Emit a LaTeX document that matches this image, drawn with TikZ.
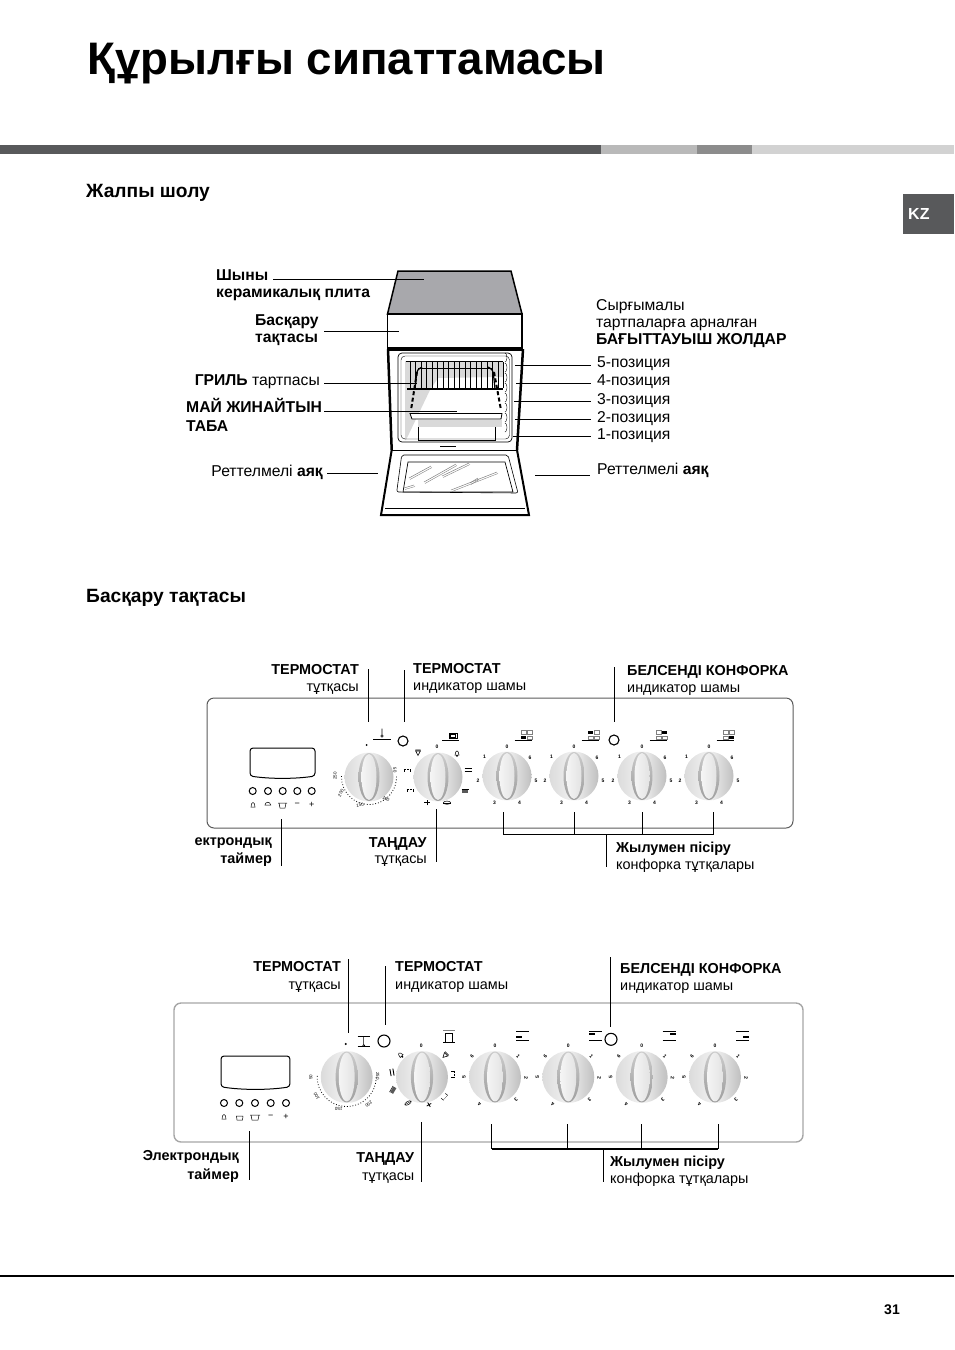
\documentclass[tikz,border=0pt]{standalone}
\usepackage{fontspec}
\setmainfont{Liberation Sans}
\usetikzlibrary{shapes.geometric,positioning}
\definecolor{cBand}{RGB}{88,89,91}
\definecolor{cHob}{RGB}{168,168,172}
\definecolor{cEdge}{RGB}{90,90,90}
\newcommand{\leadline}[3]{\coordinate (#1a) at (#2); \coordinate (#1b) at (#3); \draw[lead] (#1a) -- (#1b);}
\tikzset{
  lead/.style={draw=black,line width=0.9pt},
  lbl/.style={inner sep=0pt,font=\fontsize{14.4}{17}\selectfont,align=left},
  lblr/.style={inner sep=0pt,font=\fontsize{14.4}{17}\selectfont,align=right},
  olbl/.style={inner sep=0pt,font=\fontsize{15.7}{17}\selectfont,align=left},
  head/.style={inner sep=0pt,anchor=base west,font=\fontsize{19.2}{20}\selectfont\bfseries},
  tiny/.style={inner sep=0pt,font=\fontsize{5}{5}\selectfont\bfseries},
  panelbox/.style={draw=cEdge,rectangle,rounded corners=7pt,line width=1pt,inner sep=0pt},
  btn/.style={draw=black,circle,line width=1pt,inner sep=0pt,minimum size=7pt},
  lamp/.style={draw=black,circle,line width=1.1pt,inner sep=0pt,minimum size=10pt},
  pics/knob/.style={code={
    \shade[left color=gray!28,right color=gray!50,middle color=gray!10] (0,0) circle (24.5);
    \shade[top color=gray!40,bottom color=gray!75,middle color=gray!60] (0,0) ellipse [x radius=10.5,y radius=24];
    \shade[left color=gray!8,right color=gray!22] (0,0) ellipse [x radius=7.5,y radius=23];
  }},
  pics/burnerA/.style={code={
    \begin{scope}[y=1pt]
    \pic {knob};
    \foreach \i/\ang in {0/90,1/140,2/190,3/245,4/295,5/350,6/39}
      \node[tiny] (num\i) at (\ang:29.5) {\i};
    \draw[line width=0.7pt] (7.5,36) -- (25,36);
    \foreach \i/\cx/\cy in {1/13.7/36.9,2/13.7/42,3/19.7/42,4/19.7/36.9}{
      \ifnum\i=#1 \fill (\cx,\cy) rectangle ++(5.2,3.4);
      \else \draw[line width=0.3pt,gray] (\cx,\cy) rectangle ++(5.2,3.4);\fi}
    \end{scope}
  }},
  pics/burnerB/.style={code={
    \begin{scope}[y=1pt]
    \pic[scale=1.06] {knob};
    \foreach \i/\ang in {0/90,1/42,2/-2,3/-47,4/-120,5/180,6/138}
      \node[tiny,rotate=\ang-90] (num\i) at (\ang:31) {\i};
    \draw[line width=0.6pt] (21,45.3) -- (34,45.3) (21,36.3) -- (34,36.3);
    \ifnum#1=1 \fill (21,38.6) rectangle ++(6,2);\fi
    \ifnum#1=2 \fill (21,42.2) rectangle ++(6,2);\fi
    \ifnum#1=3 \fill (28,42.2) rectangle ++(6,2);\fi
    \ifnum#1=4 \fill (28,38.6) rectangle ++(6,2);\fi
    \end{scope}
  }},
  pics/thermoA/.style={code={
    \begin{scope}[y=1pt]
    \pic {knob};
    \fill (-2.3,32) circle (1);
    \draw[line width=0.8pt,dotted] (178:27.5) arc (178:362:27.5);
    \foreach \t/\x/\y/\r in {250/-34/1/90,200/-28/-16/60,150/-9/-28/10,100/17/-22/-35,50/26/7/-85}
      \node[tiny,rotate=\r,font=\fontsize{4.5}{5}\selectfont] (t\t) at (\x,\y) {\t};
    \draw[line width=0.7pt] (4,38) -- (22,38);
    \draw[line width=0.6pt] (13,41) circle (1.3) (13,42) -- (13,48.5);
    \end{scope}
  }},
  pics/thermoB/.style={code={
    \begin{scope}[y=1pt]
    \pic[scale=1.06] {knob};
    \fill (-1,33) circle (1.1);
    \draw[line width=0.8pt,dotted] (178:29.5) arc (178:362:29.5);
    \foreach \t/\x/\y/\r in {50/-36/0/90,100/-30/-19/120,150/-8/-32/175,200/22/-27/220,250/31/1/270}
      \node[tiny,rotate=\r,font=\fontsize{4.5}{5}\selectfont] (t\t) at (\x,\y) {\t};
    \draw[line width=0.6pt] (11,41) -- (23,41) (11,31) -- (23,31);
    \draw[line width=0.5pt] (17,31.5) circle (1) (17,32.5) -- (17,40);
    \end{scope}
  }},
  pics/symtri/.style={code={\draw[line width=0.6pt] (-2.4,2) -- (2.4,2) -- (0,-2.4) -- cycle (-2.6,3.2) -- (2.6,3.2);}},
  pics/symbell/.style={code={\draw[line width=0.5pt] (-2,-2) .. controls (-1.5,3.5) and (1.5,3.5) .. (2,-2) -- cycle (0,-3) circle (0.6);}},
  pics/symeq/.style={code={\draw[line width=0.9pt] (-3.5,1.5) -- (3.5,1.5) (-3.5,-1.5) -- (3.5,-1.5);}},
  pics/sympot/.style={code={\fill[gray!70!black] (-3.3,-2) rectangle (3.3,1.4); \draw[line width=0.5pt] (-3.5,2) -- (3.5,2);}},
  pics/symoval/.style={code={\draw[line width=0.5pt] (0,0) ellipse [x radius=3.6,y radius=1.6]; \draw[line width=0.4pt] (-3.6,0) -- (3.6,0);}},
  pics/symfan/.style={code={\draw[line width=0.8pt] (-2.6,0) -- (2.6,0) (0,-2.6) -- (0,2.6);}},
  pics/symgrill/.style={code={\draw[line width=0.5pt,densely dotted] (-3.2,1) -- (3.2,1); \draw[line width=0.5pt] (-3.2,-1.8) -- (-3.2,1) (3.2,-1.8) -- (3.2,1);}},
  pics/selectA/.style={code={
    \begin{scope}[y=1pt]
    \pic {knob};
    \node[tiny] (nil) at (-1,30.7) {0};
    \pic at (-20,24) {symtri};
    \pic at (19,24) {symbell};
    \pic at (30,6.7) {symeq};
    \pic at (27,-14) {sympot};
    \pic at (9,-25.7) {symoval};
    \pic at (-11,-25.7) {symfan};
    \pic at (-28,-13) {symgrill};
    \pic at (-31,7) {symgrill};
    \draw[line width=0.7pt] (4,37) -- (21,37);
    \draw[line width=0.7pt] (11,38.5) rectangle (19,44);
    \draw[line width=0.4pt] (12.5,39.5) rectangle (17.5,43);
    \end{scope}
  }},
  pics/selectB/.style={code={
    \begin{scope}[y=1pt]
    \pic[scale=1.06] {knob};
    \node[tiny] (nil) at (-0.7,31.7) {0};
    \pic[rotate=-45] at (22.7,21.3) {symtri};
    \pic[rotate=-90] at (31,3) {symgrill};
    \pic[rotate=-130] at (22.7,-20) {symgrill};
    \pic[rotate=30] at (7,-27.7) {symfan};
    \pic[rotate=30] at (-14,-26) {symoval};
    \pic[rotate=60] at (-29,-13) {sympot};
    \pic[rotate=100] at (-30,4.7) {symeq};
    \pic[rotate=45] at (-21.7,22.3) {symbell};
    \draw[gray,line width=0.8pt] (21,47) -- (33,47);
    \draw[line width=0.7pt] (21,34.5) -- (33,34.5);
    \draw[line width=0.5pt] (23.5,35) rectangle (30.5,44);
    \end{scope}
  }},
  pics/timer/.style={code={
    \draw[line width=1pt,rounded corners=3pt] (0,0) -- (65,0) -- (65,28) .. controls (45,31) and (20,31) .. (0,28) -- cycle;
  }},
}
\begin{document}
\begin{tikzpicture}[x=1pt,y=-1pt]
  \useasboundingbox (0,0) rectangle (954,1350);
  % page head
  \node[inner sep=0pt,anchor=base west,font=\fontsize{45.6}{50}\selectfont\bfseries] (title) at (87,74) {Құрылғы сипаттамасы};
  \fill[cBand] (0,145) rectangle (601,154);
  \fill[gray!55] (601,145) rectangle (697,154);
  \fill[gray!90] (697,145) rectangle (752,154);
  \fill[gray!35] (752,145) rectangle (954,154);
  \node[head] (overview) at (86,197) {Жалпы шолу};
  \node[fill=cBand,rectangle,minimum width=51pt,minimum height=40pt,inner sep=0pt] (kzbox) at (928.5,214) {};
  \node[text=white,inner sep=0pt,anchor=base west,font=\fontsize{16}{16}\selectfont\bfseries] (kz) at (908,219) {KZ};
  \node[head] (control) at (86,602) {Басқару тақтасы};

  % oven
  \draw[fill=cHob,line width=1.5pt] (398,271) -- (511,271) -- (522,314) -- (387.5,314) -- cycle;
  \draw[fill=white,line width=1.3pt] (387.5,314) rectangle (522,348);
  \draw[line width=2.5pt] (388,349) -- (391.7,450);
  \draw[line width=2.5pt] (523,349) -- (517,450);
  \draw[line width=2pt] (388,349.5) -- (523,349.5);
  \fill[gray!30] (405,361) -- (503,361) -- (503,377) -- (438,378) -- (430,390) -- (406,440) -- (405,440) -- cycle;
  \fill[gray!30] (418,420) -- (502,420) -- (502,427) -- (418,427) -- cycle;
  \draw[line width=0.7pt,rounded corners=4pt] (398,353) rectangle (512,442);
  \draw[line width=0.4pt,rounded corners=4pt] (401,356) rectangle (509.5,439);
  \foreach \x in {410,415.5,421,426.5,432,437.5,443,448.5,454,459.5,465,470.5,476,481.5,487,492.5,498,503}
    \draw[line width=0.6pt] (\x,362) -- (\x,388);
  \draw[line width=0.7pt] (406,361.5) -- (503,361.5);
  \draw[line width=0.8pt] (418,368) -- (492,368);
  \draw[line width=1.2pt] (407,389) -- (503,389);
  \draw[line width=1.2pt,rounded corners=3pt] (415,389) -- (417,370) -- (422,367);
  \draw[line width=1.2pt,rounded corners=3pt] (495,389) -- (493,370) -- (488,367);
  \draw[line width=2pt,dash pattern=on 4pt off 2.5pt] (417,372) -- (411,410);
  \draw[line width=2pt,dash pattern=on 4pt off 2.5pt] (494,372) -- (501,410);
  \draw[fill=white,line width=0.8pt] (410,413.5) -- (502,413.5) -- (501,419) -- (412,419) -- cycle;
  \draw[line width=0.5pt] (418,427) -- (418,440) -- (495,440) -- (495,427);
  \draw[line width=0.4pt] (440,446) -- (456,446);
  \foreach \y in {362,372,382,392,402,412,422,432}
    \draw[line width=0.4pt] (505,\y) arc (90:-90:2 and 4.5);
  \draw[line width=0.8pt] (392,450) -- (517,450);
  \draw[line width=2pt] (391.7,450) -- (381,515) -- (529,515) -- (517,450);
  \draw[line width=0.5pt] (385,508) -- (525,508);
  \draw[line width=0.6pt,rounded corners=2pt] (401.7,455) -- (508,455) -- (518,493) -- (396.7,492) -- cycle;
  \draw[line width=0.7pt] (408,462) -- (505,462) -- (513,492) -- (403,492) -- cycle;
  \foreach \xa/\ya/\xb/\yb in {409/478/431/466,424/482/456/464,442/476/469/463,451/490/497/472,470/483/478/478,404/488/414/485}{
    \draw[gray,line width=0.5pt] (\xa,\ya) -- (\xb,\yb);
    \draw[gray,line width=0.4pt] (\xa+1,\ya+1.5) -- (\xb+1,\yb+1.5);}

  % oven labels (a node's base anchor sits on its last line)
  \node[olbl,anchor=base west,font=\fontsize{15.7}{17}\selectfont\bfseries] (lglass) at (216,297) {Шыны\\керамикалық плита};
  \leadline{glass}{273,279}{424,279}
  \node[olbl,anchor=base west,font=\fontsize{15.7}{17}\selectfont\bfseries] (lctrl) at (255,342) {Басқару\\тақтасы};
  \leadline{ctrl}{324,331}{399,331}
  \node[olbl,anchor=base east] (lgrill) at (320,385) {\textbf{ГРИЛЬ} тартпасы};
  \leadline{grill}{324,383}{417,383}
  \node[olbl,anchor=base west,font=\fontsize{15.7}{19}\selectfont\bfseries] (ldrip) at (186,431) {МАЙ ЖИНАЙТЫН\\ТАБА};
  \leadline{drip}{324,411}{457,411}
  \node[olbl,anchor=base east] (lfootL) at (323,476) {Реттелмелі \textbf{аяқ}};
  \leadline{footL}{327,473}{378,473}
  \node[olbl,anchor=base west] (lrails) at (596,344) {Сырғымалы\\тартпаларға арналған\\\textbf{БАҒЫТТАУЫШ ЖОЛДАР}};
  \node[olbl,anchor=base west] (lfive) at (597,367) {5-позиция};
  \leadline{five}{515,365}{591,365}
  \node[olbl,anchor=base west] (lfour) at (597,385) {4-позиция};
  \leadline{four}{516,383}{591,383}
  \node[olbl,anchor=base west] (lthree) at (597,404) {3-позиция};
  \leadline{three}{514,401}{591,401}
  \node[olbl,anchor=base west] (ltwo) at (597,422) {2-позиция};
  \leadline{two}{515,419.5}{591,419.5}
  \node[olbl,anchor=base west] (lone) at (597,439) {1-позиция};
  \leadline{one}{513,436}{591,436}
  \node[olbl,anchor=base west] (lfootR) at (597,474) {Реттелмелі \textbf{аяқ}};
  \leadline{footR}{535,475}{590,475}

  % upper panel
  \node[panelbox,minimum width=586pt,minimum height=130pt] (panelA) at (500,763) {};
  \pic at (250,748) {timer};
  \foreach \i/\x in {1/252.7,2/268,3/282.7,4/297.3,5/311.7}
    \node[btn] (btnA\i) at (\x,791) {};
  \node[tiny,font=\fontsize{9}{9}\selectfont] (minusA) at (297.3,805) {−};
  \node[tiny,font=\fontsize{9}{9}\selectfont] (plusA) at (311.7,805) {+};
  \draw[line width=0.5pt] (251,807) .. controls (251,801) and (255,801) .. (255,807) -- cycle;
  \draw[line width=0.5pt] (264.5,805) -- (271,805) (265,805) arc (180:360:2.8);
  \draw[line width=0.5pt] (278,803) -- (287,803) (279,803) -- (280,808) -- (285,808) -- (286,803);
  \pic (kthA) at (369,777) {thermoA};
  \node[lamp] (lampA) at (403,741) {};
  \pic (kselA) at (438,777) {selectA};
  \pic (kA1) at (507,776) {burnerA=1};
  \pic (kA2) at (574,776) {burnerA=2};
  \node[lamp] (lampHotA) at (614,740) {};
  \pic (kA3) at (642,776) {burnerA=3};
  \pic (kA4) at (709,776) {burnerA=4};

  \node[lblr,anchor=base east] (lthA) at (359,691) {\textbf{ТЕРМОСТАТ}\\тұтқасы};
  \leadline{thA}{368.6,669}{368.6,722}
  \node[lbl,anchor=base west] (lindA) at (413,690) {\textbf{ТЕРМОСТАТ}\\индикатор шамы};
  \leadline{indA}{404,670}{404,722}
  \node[lbl,anchor=base west] (lhotA) at (627,692) {\textbf{БЕЛСЕНДІ КОНФОРКА}\\индикатор шамы};
  \leadline{hotA}{614,667}{614,722}
  \node[lblr,anchor=base east,font=\fontsize{14.4}{18}\selectfont\bfseries] (ltimA) at (272,863) {ектрондық\\таймер};
  \leadline{timA}{281,819}{281,866}
  \node[lblr,anchor=base east,font=\fontsize{14.4}{16}\selectfont] (lselA) at (427,863) {\textbf{ТАҢДАУ}\\тұтқасы};
  \leadline{selA}{436.5,809}{436.5,862}
  \leadline{hobA1}{503,812}{503,834}
  \leadline{hobA2}{574,812}{574,834}
  \leadline{hobA3}{642.5,812}{642.5,834}
  \leadline{hobA4}{713.5,812}{713.5,834}
  \draw[lead] (hobA1b) -- (hobA4b);
  \leadline{hobA}{606.5,834}{606.5,867}
  \node[lbl,anchor=base west] (lhobA) at (616,869) {\textbf{Жылумен пісіру}\\конфорка тұтқалары};

  % lower panel
  \node[panelbox,draw=gray!70,line width=1.4pt,minimum width=629pt,minimum height=139pt] (panelB) at (488.5,1072.5) {};
  \pic[xscale=1.06,yscale=1.1] at (221,1056) {timer};
  \foreach \i/\x in {1/224,2/239.3,3/255,4/270.7,5/286}
    \node[btn] (btnB\i) at (\x,1103) {};
  \node[tiny,font=\fontsize{9}{9}\selectfont] (minusB) at (270.7,1117) {−};
  \node[tiny,font=\fontsize{9}{9}\selectfont] (plusB) at (286,1117) {+};
  \draw[line width=0.5pt] (222,1119) .. controls (222,1113) and (226,1113) .. (226,1119) -- cycle;
  \draw[line width=0.5pt] (236,1116) -- (243,1116) (236.5,1116) -- (237,1120) -- (242.5,1120) -- (243,1116);
  \draw[line width=0.5pt] (250,1115) -- (260,1115) (251,1115) -- (252,1120) -- (258,1120) -- (259,1115);
  \pic (kthB) at (346.7,1077) {thermoB};
  \node[lamp,minimum size=12pt] (lampB) at (384,1041) {};
  \pic (kselB) at (422,1077) {selectB};
  \pic (kB1) at (495,1077) {burnerB=1};
  \pic (kB2) at (568.3,1077) {burnerB=2};
  \node[lamp,minimum size=12pt] (lampHotB) at (611,1039.3) {};
  \pic (kB3) at (641.7,1077) {burnerB=3};
  \pic (kB4) at (715,1077) {burnerB=4};

  \node[lblr,anchor=base east,font=\fontsize{14.4}{18}\selectfont] (lthB) at (341,989) {\textbf{ТЕРМОСТАТ}\\тұтқасы};
  \leadline{thB}{348.4,959}{348.4,1033}
  \node[lbl,anchor=base west,font=\fontsize{14.4}{18}\selectfont] (lindB) at (395,989) {\textbf{ТЕРМОСТАТ}\\индикатор шамы};
  \leadline{indB}{385,966}{385,1025}
  \node[lbl,anchor=base west] (lhotB) at (620,990) {\textbf{БЕЛСЕНДІ КОНФОРКА}\\индикатор шамы};
  \leadline{hotB}{610.5,957}{610.5,1027}
  \node[lblr,anchor=base east,font=\fontsize{14.4}{19}\selectfont\bfseries] (ltimB) at (239,1179) {Электрондық\\таймер};
  \leadline{timB}{249,1131}{249,1180}
  \node[lblr,anchor=base east,font=\fontsize{14.4}{18}\selectfont] (lselB) at (414.5,1180) {\textbf{ТАҢДАУ}\\тұтқасы};
  \leadline{selB}{421,1122}{421,1182}
  \leadline{hobB1}{491.5,1124}{491.5,1149}
  \leadline{hobB2}{567.4,1124}{567.4,1149}
  \leadline{hobB3}{641,1124}{641,1149}
  \leadline{hobB4}{718,1124}{718,1149}
  \draw[lead,line width=2pt] (hobB1b) -- (hobB4b);
  \leadline{hobB}{603.4,1149}{603.4,1182}
  \node[lbl,anchor=base west] (lhobB) at (610,1183) {\textbf{Жылумен пісіру}\\конфорка тұтқалары};

  % page foot
  \coordinate (footL) at (0,1276);
  \coordinate (footR) at (954,1276);
  \draw[line width=2pt] (footL) -- (footR);
  \node[inner sep=0pt,anchor=base east,font=\fontsize{14}{14}\selectfont\bfseries] (pageno) at (900,1314) {31};
\end{tikzpicture}
\end{document}
